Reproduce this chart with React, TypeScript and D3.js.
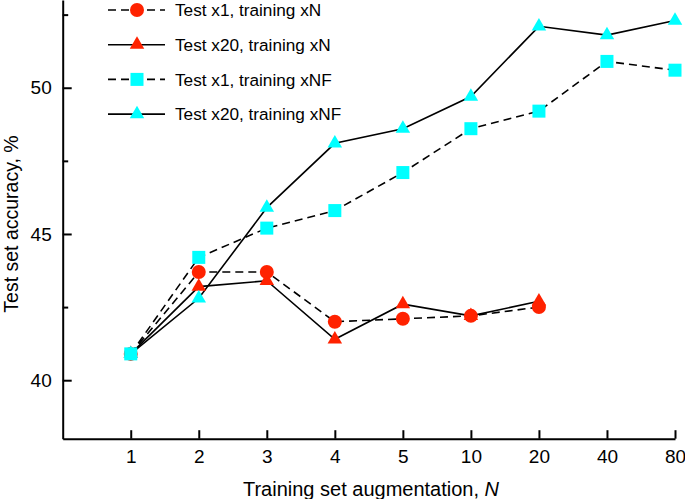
import React, { useEffect, useRef } from "react";
import * as d3 from "d3";

const categories = ["1", "2", "3", "4", "5", "10", "20", "40", "80"];
const yTicksMajor = [40, 45, 50];
const yTicksMinor = [42.5, 47.5, 52.5];

const testX1TrainN = [40.9, 43.7, 43.7, 42.0, 42.1, 42.2, 42.5];
const testX20TrainN = [40.9, 43.2, 43.4, 41.4, 42.6, 42.2, 42.7];
const testX1TrainNF = [40.9, 44.2, 45.2, 45.8, 47.1, 48.6, 49.2, 50.9, 50.6];
const testX20TrainNF = [40.9, 42.8, 45.9, 48.1, 48.6, 49.7, 52.1, 51.8, 52.3];

const RED = "#ff2200";
const CYAN = "#00ffff";

type Series = {
  name: string;
  values: number[];
  color: string;
  marker: "circle" | "triangle" | "square";
  dashed: boolean;
};

const series: Series[] = [
  { name: "Test x1, training xN", values: testX1TrainN, color: RED, marker: "circle", dashed: true },
  { name: "Test x20, training xN", values: testX20TrainN, color: RED, marker: "triangle", dashed: false },
  { name: "Test x1, training xNF", values: testX1TrainNF, color: CYAN, marker: "square", dashed: true },
  { name: "Test x20, training xNF", values: testX20TrainNF, color: CYAN, marker: "triangle", dashed: false },
];

const drawOrder = [1, 0, 3, 2];

const FONT = "'Liberation Sans', Arial, Helvetica, sans-serif";

export default function App() {
  const ref = useRef<SVGSVGElement | null>(null);

  useEffect(() => {
    const svg = d3.select(ref.current);
    svg.selectAll("*").remove();

    const left = 62.7;
    const right = 675;
    const bottom = 438.7;
    const top = 0;

    const x = d3.scaleLinear().domain([0, categories.length]).range([left, right]);
    const y = d3.scaleLinear().domain([38, 53]).range([bottom, top]);

    const drawMarker = (parent: any, m: string, cx: number, cy: number, color: string) => {
      if (m === "circle") {
        parent.append("circle").attr("cx", cx).attr("cy", cy).attr("r", 7).attr("fill", color);
      } else if (m === "square") {
        parent
          .append("rect")
          .attr("x", cx - 6.5)
          .attr("y", cy - 6.5)
          .attr("width", 13)
          .attr("height", 13)
          .attr("fill", color);
      } else {
        const s = 14.5;
        const h = 12.5;
        const p = d3.path();
        p.moveTo(cx, cy - (2 * h) / 3);
        p.lineTo(cx + s / 2, cy + h / 3);
        p.lineTo(cx - s / 2, cy + h / 3);
        p.closePath();
        parent.append("path").attr("d", p.toString()).attr("fill", color);
      }
    };

    const g = svg.append("g") as any;

    const line = d3
      .line<number>()
      .x((_, i) => x(i + 1))
      .y((d) => y(d));

    drawOrder.forEach((si) => {
      const s = series[si];
      g.append("path")
        .attr("d", line(s.values) as string)
        .attr("fill", "none")
        .attr("stroke", "#000")
        .attr("stroke-width", 1.6)
        .attr("stroke-dasharray", s.dashed ? "8,5" : null);
    });
    drawOrder.forEach((si) => {
      const s = series[si];
      s.values.forEach((v, i) => drawMarker(g, s.marker, x(i + 1), y(v), s.color));
    });

    // Axes
    const xAxis = d3
      .axisBottom(x)
      .tickValues(d3.range(1, categories.length + 1))
      .tickFormat((d) => categories[(d as number) - 1])
      .tickSizeInner(-8.5)
      .tickSizeOuter(0)
      .tickPadding(10.5);
    const gx = svg.append("g").attr("transform", `translate(0,${bottom})`).call(xAxis);
    gx.select(".domain").attr("stroke-width", 2);
    gx.selectAll(".tick line").attr("stroke-width", 2);
    gx.selectAll("text").attr("font-size", 19).attr("font-family", FONT).attr("fill", "#000");

    const yAxis = d3
      .axisLeft(y)
      .tickValues(yTicksMajor)
      .tickFormat((d) => String(d))
      .tickSizeInner(-9)
      .tickSizeOuter(0)
      .tickPadding(11);
    const gy = svg.append("g").attr("transform", `translate(${left},0)`).call(yAxis);
    gy.select(".domain").attr("stroke-width", 2);
    gy.selectAll(".tick line").attr("stroke-width", 2);
    gy.selectAll("text").attr("font-size", 19).attr("font-family", FONT).attr("fill", "#000");

    const yMinor = d3
      .axisLeft(y)
      .tickValues(yTicksMinor)
      .tickFormat(() => "")
      .tickSizeInner(-5.5)
      .tickSizeOuter(0);
    const gym = svg.append("g").attr("transform", `translate(${left},0)`).call(yMinor);
    gym.select(".domain").remove();
    gym.selectAll(".tick line").attr("stroke-width", 2);

    // Axis titles
    const xt = svg
      .append("text")
      .attr("x", 371)
      .attr("y", 496)
      .attr("text-anchor", "middle")
      .attr("font-size", 20)
      .attr("font-family", FONT);
    xt.append("tspan").text("Training set augmentation, ");
    xt.append("tspan").attr("font-style", "italic").text("N");

    svg
      .append("text")
      .attr("transform", `translate(18,224) rotate(-90)`)
      .attr("text-anchor", "middle")
      .attr("font-size", 19.5)
      .attr("font-family", FONT)
      .text("Test set accuracy, %");

    // Legend
    const lg = svg.append("g") as any;
    series.forEach((s, i) => {
      const ly = 10 + i * 34.7;
      lg.append("line")
        .attr("x1", 108)
        .attr("x2", 165)
        .attr("y1", ly)
        .attr("y2", ly)
        .attr("stroke", "#000")
        .attr("stroke-width", 1.6)
        .attr("stroke-dasharray", s.dashed ? "8,5" : null);
      drawMarker(lg, s.marker, 137, ly, s.color);
      lg.append("text")
        .attr("x", 175)
        .attr("y", ly)
        .attr("dy", "0.36em")
        .attr("font-size", 17.2)
        .attr("font-family", FONT)
        .text(s.name);
    });
  }, []);

  return (
    <svg
      ref={ref}
      width={685}
      height={499}
      style={{ position: "absolute", left: 0, top: 0, background: "#fff" }}
    />
  );
}
